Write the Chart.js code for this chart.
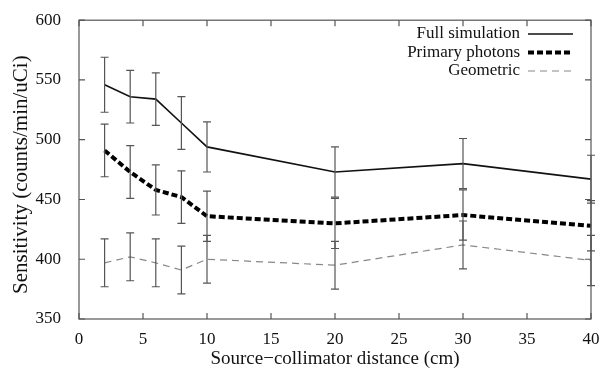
<!DOCTYPE html>
<html>
<head>
<meta charset="utf-8">
<script src="https://cdn.jsdelivr.net/npm/chart.js@4.4.0/dist/chart.umd.min.js"></script>
<style>
  html, body { margin: 0; padding: 0; background: #fff; }
  #wrap { width: 606px; height: 370px; }
</style>
</head>
<body>
<div id="wrap"><canvas id="grafico" width="606" height="370"></canvas></div>
<script>
// distâncias (cm) e sensibilidade
const distances = [2, 4, 6, 8, 10, 20, 30, 40];
const fullSim = [546, 536, 534, 514, 494, 473, 480, 467];
const fullErr = [23, 22, 22, 22, 21, 21, 21, 20];
const primary = [491, 473, 458, 452, 436, 430, 437, 428];
const primaryErr = [22, 22, 21, 22, 21, 21, 21, 21];
const geometric = [397, 402, 397, 391, 400, 395, 412, 399];
const geometricErr = [20, 20, 20, 20, 20, 20, 20, 21];

const xTicks = [0, 5, 10, 15, 20, 25, 30, 35, 40];
const yTicks = [350, 400, 450, 500, 550, 600];

const seriesNames = ['Full simulation', 'Primary photons', 'Geometric'];
const yTitle = 'Sensitivity (counts/min/uCi)';
const FONT = '"Liberation Serif", "DejaVu Serif", serif';
const AXIS_COLOR = '#555';

function pts(ys) {
  return distances.map((d, i) => ({ x: d, y: ys[i] }));
}

// barras de erro desenhadas pelas escalas do próprio chart
const errorBars = {
  id: 'errorBars',
  afterDatasetsDraw(chart) {
    const { ctx, scales: { x, y } } = chart;
    ctx.save();
    ctx.strokeStyle = '#555';
    ctx.lineWidth = 1.2;
    chart.data.datasets.forEach(ds => {
      ds.errors.forEach((e, i) => {
        const px = x.getPixelForValue(ds.data[i].x);
        const top = y.getPixelForValue(ds.data[i].y + e);
        const bot = y.getPixelForValue(ds.data[i].y - e);
        ctx.beginPath();
        ctx.moveTo(px, top); ctx.lineTo(px, bot);
        ctx.moveTo(px - 4, top); ctx.lineTo(px + 4, top);
        ctx.moveTo(px - 4, bot); ctx.lineTo(px + 4, bot);
        ctx.stroke();
      });
    });
    ctx.restore();
  }
};

// moldura, marcas para dentro, título do eixo y e legenda
const frame = {
  id: 'frame',
  afterDraw(chart) {
    const { ctx, chartArea: a, scales: { x, y } } = chart;
    ctx.save();
    ctx.strokeStyle = AXIS_COLOR;
    ctx.lineWidth = 1.2;
    ctx.strokeRect(a.left, a.top, a.right - a.left, a.bottom - a.top);
    ctx.beginPath();
    xTicks.forEach(v => {
      const px = x.getPixelForValue(v);
      ctx.moveTo(px, a.bottom); ctx.lineTo(px, a.bottom - 6);
      ctx.moveTo(px, a.top); ctx.lineTo(px, a.top + 6);
    });
    yTicks.forEach(v => {
      const py = y.getPixelForValue(v);
      ctx.moveTo(a.left, py); ctx.lineTo(a.left + 6, py);
      ctx.moveTo(a.right, py); ctx.lineTo(a.right - 6, py);
    });
    ctx.stroke();

    // título do eixo y
    ctx.save();
    ctx.translate(21, (a.top + a.bottom) / 2 + 5);
    ctx.rotate(-Math.PI / 2);
    ctx.font = '21px ' + FONT;
    ctx.fillStyle = '#111';
    ctx.textAlign = 'center';
    ctx.textBaseline = 'middle';
    ctx.fillText(yTitle, 0, 0);
    ctx.restore();

    // legenda
    ctx.font = '17px ' + FONT;
    ctx.textAlign = 'right';
    ctx.textBaseline = 'middle';
    chart.data.datasets.forEach((ds, i) => {
      const ty = 34 + i * 18.5;
      ctx.fillStyle = '#111';
      ctx.fillText(ds.label, 520, ty);
      ctx.beginPath();
      ctx.strokeStyle = ds.borderColor;
      ctx.lineWidth = ds.borderWidth;
      ctx.setLineDash(ds.borderDash || []);
      ctx.moveTo(528, ty); ctx.lineTo(573, ty);
      ctx.stroke();
    });
    ctx.restore();
  }
};

new Chart(document.getElementById('grafico'), {
  type: 'line',
  data: {
    datasets: [
      { label: seriesNames[0], data: pts(fullSim), errors: fullErr,
        borderColor: '#111', borderWidth: 1.6, pointRadius: 0, tension: 0 },
      { label: seriesNames[1], data: pts(primary), errors: primaryErr,
        borderColor: '#000', borderWidth: 4, borderDash: [6, 3], pointRadius: 0, tension: 0 },
      { label: seriesNames[2], data: pts(geometric), errors: geometricErr,
        borderColor: '#888', borderWidth: 1.2, borderDash: [7, 5], pointRadius: 0, tension: 0 }
    ]
  },
  options: {
    responsive: false,
    animation: false,
    clip: false,
    layout: { padding: { top: 15, right: 15, left: 0, bottom: 0 } },
    plugins: { legend: { display: false }, tooltip: { enabled: false } },
    scales: {
      x: {
        type: 'linear', min: 0, max: 40,
        afterBuildTicks: s => { s.ticks = xTicks.map(v => ({ value: v })); },
        afterFit: s => { s.height = 51; },
        grid: { display: false },
        border: { display: false },
        ticks: { color: '#111', font: { family: FONT, size: 17 }, padding: 2, maxRotation: 0 },
        title: { display: true, text: 'Source\u2212collimator distance (cm)', color: '#111',
                 font: { family: FONT, size: 19 }, padding: { top: 0, bottom: 0 } }
      },
      y: {
        type: 'linear', min: 350, max: 600,
        afterBuildTicks: s => { s.ticks = yTicks.map(v => ({ value: v })); },
        afterFit: s => { s.width = 79; },
        grid: { display: false },
        border: { display: false },
        ticks: { color: '#111', font: { family: FONT, size: 17 }, padding: 10 },
        title: { display: false }
      }
    }
  },
  plugins: [errorBars, frame]
});
</script>
</body>
</html>
